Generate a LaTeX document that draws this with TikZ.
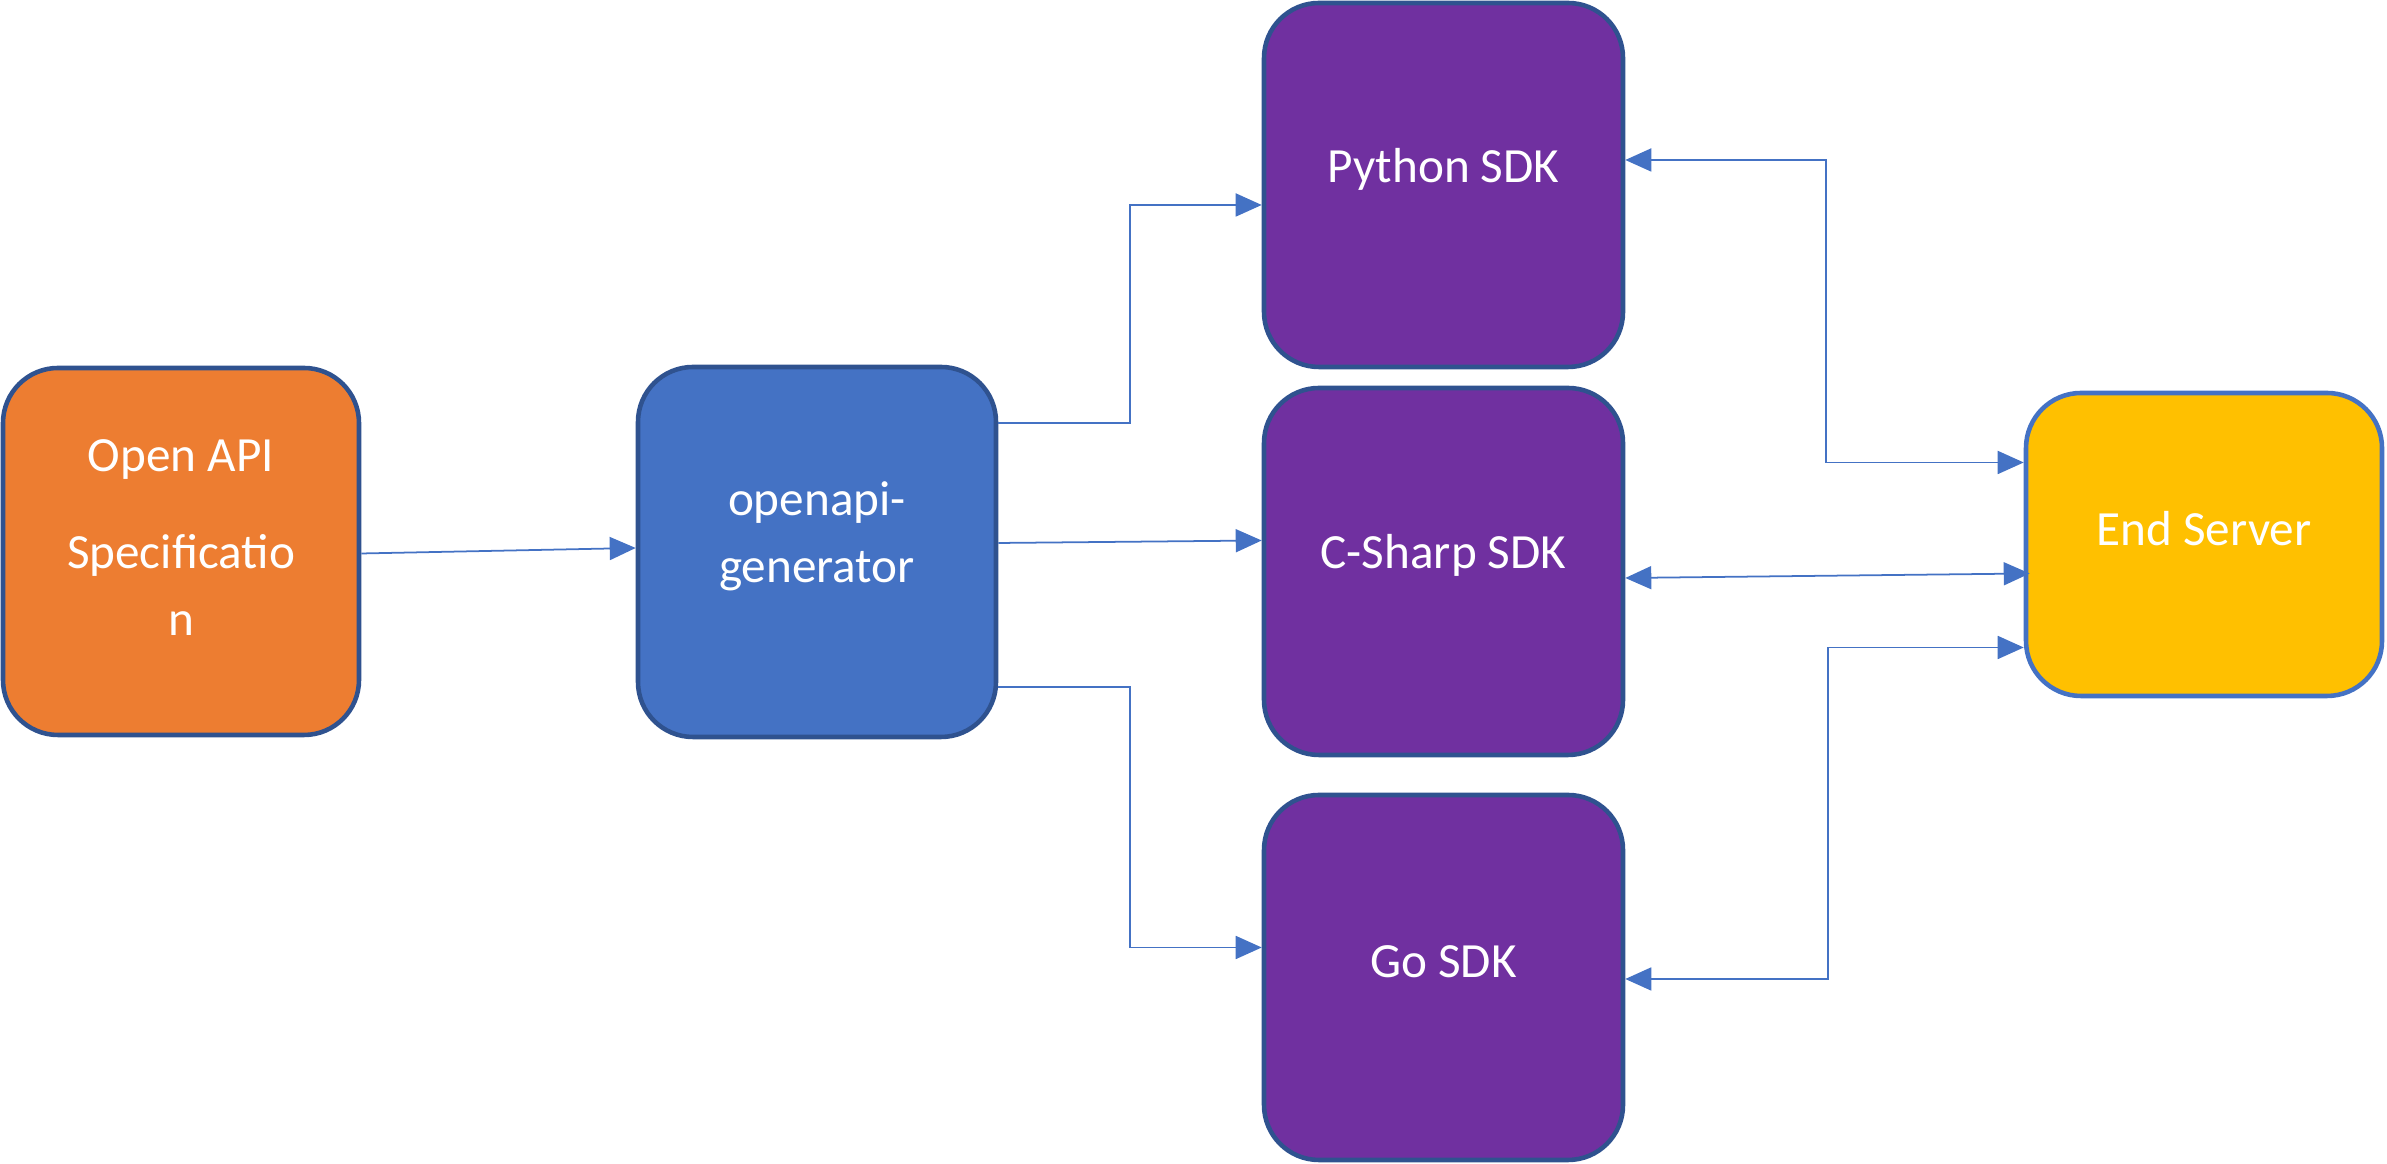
\documentclass[tikz,border=0pt]{standalone}
\usepackage{fontspec}
\setmainfont{Carlito}
\usetikzlibrary{arrows.meta}
\definecolor{specorange}{HTML}{ED7D31}
\definecolor{genblue}{HTML}{4472C4}
\definecolor{sdkpurple}{HTML}{7030A0}
\definecolor{servergold}{HTML}{FFC000}
\definecolor{edgeblue}{HTML}{2F528F}
\definecolor{linkblue}{HTML}{4472C4}
\tikzset{
  box/.style={draw=edgeblue, line width=1.3pt, rounded corners=0.55cm,
    minimum width=3.56cm, minimum height=3.67cm},
  txt/.style={text=white, align=center, font=\fontsize{14}{19}\selectfont},
  tip/.tip={Triangle[length=2.6mm,width=2.3mm]},
  link/.style={draw=linkblue, line width=0.5pt, -tip},
  twoway/.style={draw=linkblue, line width=0.5pt, tip-tip}
}
\begin{document}
\begin{tikzpicture}
  \useasboundingbox (0,0) rectangle (23.87,11.64);
  % Draw boxes
  \node (spec) [box, fill=specorange,
        label={[txt,yshift=1.4mm]center:Open API\\[8.5pt]Specificatio\\n}]
        at (1.81,6.125) {};
  \node (gen)  [box, fill=genblue, minimum width=3.58cm, minimum height=3.70cm,
        label={[txt,yshift=1.6mm]center:openapi-\\generator}]
        at (8.17,6.12) {};
  \node (py)   [box, fill=sdkpurple, minimum width=3.59cm, minimum height=3.64cm,
        label={[txt,yshift=1.6mm]center:Python SDK}]
        at (14.435,9.79) {};
  \node (cs)   [box, fill=sdkpurple, minimum width=3.59cm,
        label={[txt,yshift=1.6mm]center:C-Sharp SDK}]
        at (14.435,5.925) {};
  \node (go)   [box, fill=sdkpurple, minimum width=3.59cm, minimum height=3.65cm,
        label={[txt,yshift=1.6mm]center:Go SDK}]
        at (14.435,1.865) {};
  \node (end)  [box, draw=linkblue, fill=servergold, minimum height=3.03cm,
        label={[txt,yshift=1.6mm]center:End Server}]
        at (22.04,6.195) {};
  % Draw generator arrows
  \draw[link] ([yshift=-0.02cm]spec.east) -- ([yshift=0.04cm]gen.west);
  \draw[link] ([yshift=1.29cm]gen.east) -- ++(1.32,0)
        |- ([yshift=-0.2cm]py.west);
  \draw[link] ([yshift=0.09cm]gen.east) -- ([yshift=0.31cm]cs.west);
  \draw[link] ([yshift=-1.35cm]gen.east) -- ++(1.32,0)
        |- ([yshift=0.3cm]go.west);
  % Draw server arrows
  \draw[twoway] ([yshift=0.25cm]py.east) -- ++(2.01,0)
        |- ([yshift=0.82cm]end.west);
  \draw[twoway] ([yshift=-0.065cm]cs.east) -- ([xshift=0.06cm,yshift=-0.29cm]end.west);
  \draw[twoway] ([yshift=-0.015cm]go.east) -- ++(2.03,0)
        |- ([yshift=-1.03cm]end.west);
\end{tikzpicture}
\end{document}
